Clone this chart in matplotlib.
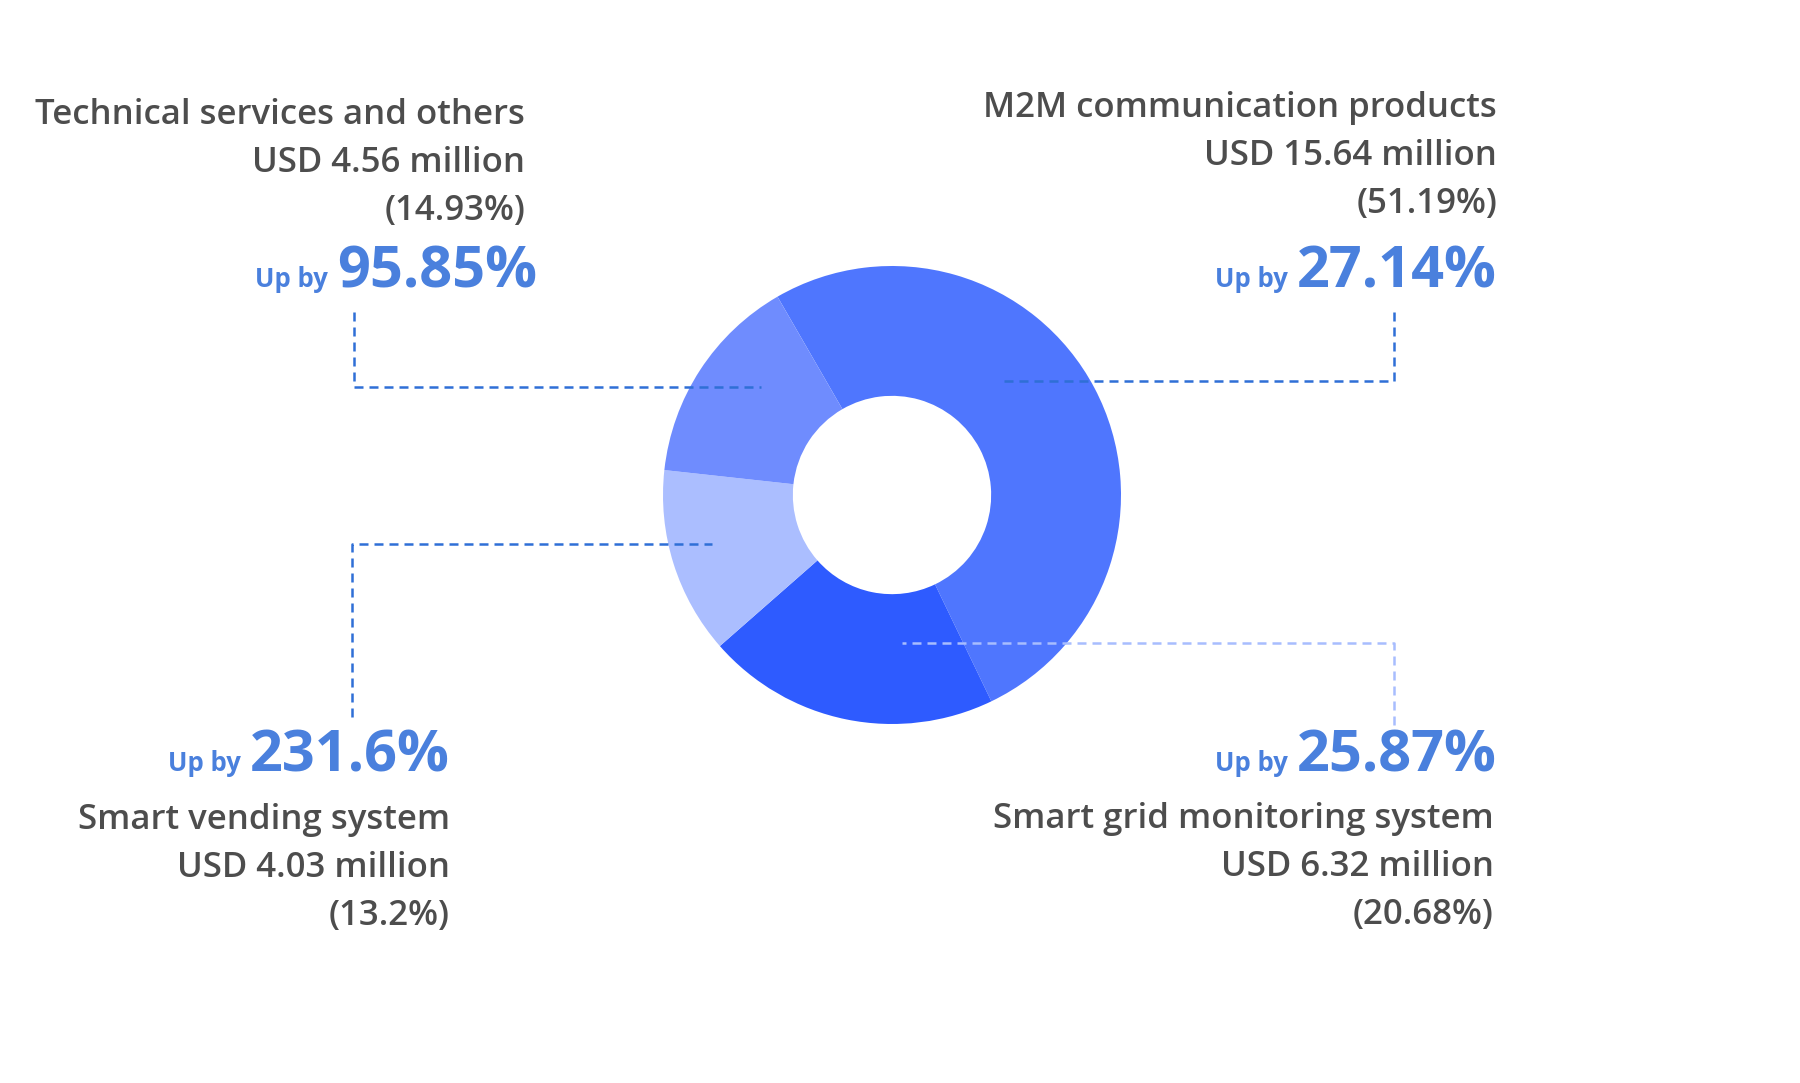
import matplotlib.pyplot as plt

# segment data, in clockwise order starting at the top-left of the donut
segments = ["M2M communication products", "Smart grid monitoring system",
            "Smart vending system", "Technical services and others"]
revenue = [15.64, 6.32, 4.03, 4.56]  # USD million
share = [51.19, 20.68, 13.2, 14.93]  # percent of total
growth = ["27.14%", "25.87%", "231.6%", "95.85%"]
colors = ["#4F76FE", "#2E5BFF", "#ABBEFF", "#6F8CFE"]

W, H = 1800, 1083
GRAY = "#4D4D4D"
BLUE = "#4A80DD"
FONT = ["Open Sans", "DejaVu Sans"]

fig = plt.figure(figsize=(W / 100, H / 100), dpi=100)
fig.patch.set_facecolor("white")

# donut
cx, cy, r = 892, 495, 229
pie_ax = fig.add_axes([(cx - r) / W, (H - cy - r) / H, 2 * r / W, 2 * r / H])
pie_ax.pie(share, colors=colors, startangle=120, counterclock=False, radius=1,
           wedgeprops=dict(width=0.567, edgecolor="none"))
pie_ax.set_xlim(-1, 1)
pie_ax.set_ylim(-1, 1)
pie_ax.set_aspect("equal")
pie_ax.axis("off")

# overlay in pixel coordinates (y down)
ax = fig.add_axes([0, 0, 1, 1])
ax.set_xlim(0, W)
ax.set_ylim(H, 0)
ax.axis("off")
ax.patch.set_alpha(0)


def leader(xs, ys, color):
    ax.plot(xs, ys, color=color, lw=1.8, dashes=(3.6, 2.4), solid_capstyle="butt")


leader([1394, 1394, 1004], [312, 381, 381], "#2F6FD6")  # M2M
leader([354, 354, 761], [312, 387, 387], "#2F6FD6")     # technical
leader([352, 352, 712], [717, 544, 544], "#2F6FD6")     # vending
leader([1394, 1394, 902], [725, 643, 643], "#A8BDFE")   # grid

fig.canvas.draw()
renderer = fig.canvas.get_renderer()
inv = ax.transData.inverted()


def growth_line(x_right, y, value):
    num = ax.text(x_right, y, value, ha="right", va="baseline", fontsize=41.5,
                  fontweight="bold", color=BLUE, family=FONT)
    bb = num.get_window_extent(renderer=renderer)
    x_left = inv.transform((bb.x0, bb.y0))[0]
    ax.text(x_left - 9, y, "Up by", ha="right", va="baseline", fontsize=18.5,
            fontweight="bold", color=BLUE, family=FONT)


def label_block(x_right, y_first, idx):
    lines = [segments[idx], f"USD {revenue[idx]:.2f} million", f"({share[idx]}%)"]
    for k, s in enumerate(lines):
        ax.text(x_right, y_first + 48 * k, s, ha="right", va="baseline",
                fontsize=25, fontweight="semibold", color=GRAY, family=FONT)


# M2M (top right)
label_block(1497, 117, 0)
growth_line(1497, 287, growth[0])
# Technical (top left)
label_block(525, 124, 3)
growth_line(537, 287, growth[3])
# Vending (bottom left)
growth_line(450, 771, growth[2])
label_block(450, 829, 2)
# Grid (bottom right)
growth_line(1497, 771, growth[1])
label_block(1494, 828, 1)

fig.savefig("out.png", dpi=100, facecolor="white")
